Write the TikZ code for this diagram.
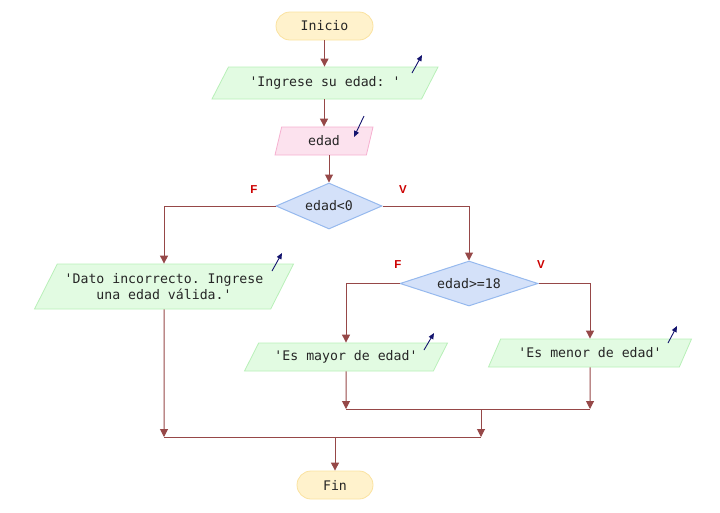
\documentclass[tikz,border=0pt]{standalone}
\usepackage{fontspec}
\setmonofont{DejaVu Sans Mono}
\setsansfont{Liberation Sans}
\usetikzlibrary{shapes.geometric,arrows.meta}
\definecolor{conn}{RGB}{150,72,72}
\definecolor{termfill}{RGB}{255,242,204}
\definecolor{termdraw}{RGB}{250,226,160}
\definecolor{iofill}{RGB}{226,251,226}
\definecolor{iodraw}{RGB}{184,240,184}
\definecolor{infill}{RGB}{252,226,238}
\definecolor{indraw}{RGB}{246,176,208}
\definecolor{decfill}{RGB}{212,225,249}
\definecolor{decdraw}{RGB}{150,185,238}
\definecolor{lblred}{RGB}{204,0,0}
\definecolor{navyarrow}{RGB}{20,20,110}
\tikzset{
  txt/.style={font=\ttfamily\fontsize{13.2}{16}\selectfont, text=black!85},
  term/.style={txt, rectangle, rounded corners=14pt, fill=termfill, draw=termdraw, line width=0.8pt, minimum height=28pt, inner sep=0pt},
  iobox/.style={txt, trapezium, trapezium stretches body, fill=iofill, draw=iodraw, line width=0.8pt, inner sep=0pt, align=center},
  inbox/.style={txt, trapezium, trapezium stretches body, fill=infill, draw=indraw, line width=0.8pt, inner sep=0pt},
  decbox/.style={txt, diamond, aspect=3, fill=decfill, draw=decdraw, line width=1pt, inner sep=0pt},
  conline/.style={draw=conn, line width=1pt},
  conarrow/.style={conline, -{Triangle[length=8pt,width=8pt]}},
  flag/.style={font=\sffamily\bfseries\fontsize{11.5}{13}\selectfont, text=lblred},
  ioarrow/.style={draw=navyarrow, line width=0.9pt, -{Triangle[length=6pt,width=5pt]}}
}
\begin{document}
\begin{tikzpicture}[x=1pt,y=-1pt]
\useasboundingbox (0,0) rectangle (720,512);

\node[term, minimum width=97pt] (inicio) at (324.5,26) {Inicio};
\node[iobox, trapezium left angle=38, trapezium right angle=142, minimum width=226pt, minimum height=32pt] (in1) at (325,83) {'Ingrese su edad: '};
\node[inbox, trapezium left angle=57, trapezium right angle=123, minimum width=98pt, minimum height=28pt] (edad) at (324,141) {edad};
\node[decbox, minimum width=106pt, minimum height=46pt] (d1) at (329,206) {edad<0};
\node[iobox, trapezium left angle=49, trapezium right angle=131, minimum width=259pt, minimum height=45pt] (dato) at (164,286.5) {'Dato incorrecto. Ingrese\\una edad válida.'};
\node[decbox, minimum width=138pt, minimum height=45pt] (d2) at (469,283.5) {edad>=18};
\node[iobox, trapezium left angle=42, trapezium right angle=138, minimum width=203pt, minimum height=28pt] (mayor) at (346,357) {'Es mayor de edad'};
\node[iobox, trapezium left angle=40, trapezium right angle=140, minimum width=203pt, minimum height=28pt] (menor) at (590,353) {'Es menor de edad'};
\node[term, minimum width=76pt] (fin) at (335,485) {Fin};

\node[flag] (f1) at (254,190) {F};
\node[flag] (v1) at (403,190) {V};
\node[flag] (f2) at (398,265) {F};
\node[flag] (v2) at (541,265) {V};

\coordinate (j1) at (346,409);
\coordinate (j2) at (590,409);
\coordinate (j3) at (481,409);
\coordinate (j4) at (481,437);
\coordinate (j5) at (164,437);
\coordinate (j6) at (335,437);

\draw[conarrow] (inicio.south) -- (inicio.south |- in1.north);
\draw[conarrow] (in1.south -| edad.north) -- (edad.north);
\draw[conarrow] (edad.south -| d1.north) -- (d1.north);
\draw[conarrow] (d1.west) -| (dato.north);
\draw[conarrow] (d1.east) -| (d2.north);
\draw[conarrow] (d2.west) -| (mayor.north);
\draw[conarrow] (d2.east) -| (menor.north);
\draw[conarrow] (mayor.south) -- (j1);
\draw[conarrow] (menor.south) -- (j2);
\draw[conline] (j1) -- (j2);
\draw[conarrow] (j3) -- (j4);
\draw[conarrow] (dato.south) -- (j5);
\draw[conline] (j5) -- (j4);
\draw[conarrow] (j6) -- (fin.north);

% input/output markers
\coordinate (a1s) at (412,73); \coordinate (a1e) at (422,55);
\coordinate (a2s) at (364,116); \coordinate (a2e) at (354,137);
\coordinate (a3s) at (272,271); \coordinate (a3e) at (282,253);
\coordinate (a4s) at (424,350); \coordinate (a4e) at (434,333);
\coordinate (a5s) at (668,343); \coordinate (a5e) at (677,326);
\draw[ioarrow] (a1s) -- (a1e);
\draw[ioarrow] (a2s) -- (a2e);
\draw[ioarrow] (a3s) -- (a3e);
\draw[ioarrow] (a4s) -- (a4e);
\draw[ioarrow] (a5s) -- (a5e);
\end{tikzpicture}
\end{document}
